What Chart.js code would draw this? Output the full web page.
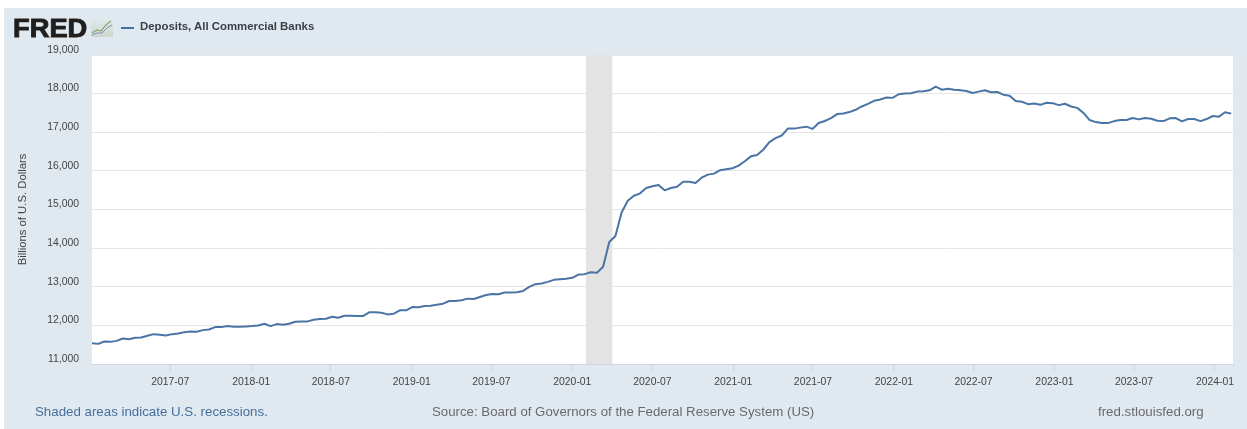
<!DOCTYPE html>
<html>
<head>
<meta charset="utf-8">
<script src="https://cdn.jsdelivr.net/npm/chart.js@4"></script>
<style>
html,body{margin:0;padding:0;background:#fff;width:1247px;height:429px;overflow:hidden}
#panel{position:absolute;left:4px;top:8px;width:1243px;height:421px;background:#e1e9f0}
#wrap{position:absolute;left:0;top:0;width:1247px;height:429px}
.t{position:absolute;font-family:"Liberation Sans",Arial,sans-serif;white-space:nowrap;line-height:1}
#logo{left:13px;top:15px;font-weight:700;font-size:26px;color:#1f1f1f;-webkit-text-stroke:.9px #1f1f1f;transform:scaleX(1.05);transform-origin:left center}
#icon{position:absolute;left:91px;top:18px}
#swatch{position:absolute;left:121px;top:26.5px;width:13px;height:2px;background:#4572a7}
#legend{left:140px;top:21px;font-size:11.4px;font-weight:700;color:#3a3f46}
#note{left:35px;top:404.5px;font-size:13.3px;color:#44709f}
#source{left:432px;top:404.5px;font-size:13.25px;color:#6a6a6a}
#site{left:1098px;top:404.5px;font-size:13.3px;color:#6a6a6a}
</style>
</head>
<body>
<div id="panel"></div>
<div id="wrap"><canvas id="c" width="1247" height="429"></canvas></div>
<div class="t" id="logo">FRED</div>
<svg id="icon" width="22" height="19" viewBox="0 0 22 19"><defs><linearGradient id="ig" x1="0" y1="0" x2="0" y2="1"><stop offset="0" stop-color="#e1e9f0"/><stop offset="1" stop-color="#cfd6cc"/></linearGradient></defs><rect width="22" height="19" fill="url(#ig)"/><polyline points="1,15 6,12 10,13 15,7 20,3" fill="none" stroke="#8aa878" stroke-width="1.2"/><polyline points="1,17 6,15 11,15 16,10 21,7" fill="none" stroke="#7d94ad" stroke-width="1"/></svg>
<div id="swatch"></div>
<div class="t" id="legend">Deposits, All Commercial Banks</div>
<div class="t" id="note">Shaded areas indicate U.S. recessions.</div>
<div class="t" id="source">Source: Board of Governors of the Federal Reserve System (US)</div>
<div class="t" id="site">fred.stlouisfed.org</div>
<script>
const firstObservation = "2017-01-04";
const observationStepDays = 14;
const axisEnd = "2024-02-11";
const yAxisTitle = "Billions of U.S. Dollars";
const deposits = [
11539,11521,11582,11573,11599,11660,11643,11677,11686,11730,11773,11756,11738,11773,11790,11825,11842,11834,11877,11894,
11955,11955,11981,11964,11964,11973,11981,11999,12042,11981,12033,12016,12042,12094,12103,12103,12146,12164,12172,12224,12198,
12250,12250,12241,12241,12337,12337,12328,12284,12302,12389,12389,12475,12467,12501,12510,12536,12562,12632,12632,12649,
12692,12684,12736,12788,12814,12805,12849,12849,12857,12892,12996,13066,13083,13126,13179,13196,13205,13231,13317,13326,13377,13362,
13517,14159,14315,14924,15226,15356,15418,15557,15600,15635,15496,15557,15591,15721,15721,15687,15825,15903,15929,16017,16043,
16068,16137,16248,16376,16410,16547,16744,16847,16915,17094,17094,17120,17145,17086,17240,17291,17368,17471,17488,17522,17582,
17667,17736,17813,17847,17898,17890,17984,18001,18009,18052,18060,18086,18180,18103,18129,18103,18086,18069,18017,18052,18086,18035,18043,
17973,17947,17807,17789,17728,17745,17710,17763,17754,17702,17737,17667,17631,17500,17316,17263,17237,17237,17289,17316,17316,17368,
17333,17368,17351,17298,17289,17360,17368,17281,17342,17342,17289,17342,17421,17403,17517,17482
];
const xTickLabels = ["2017-07","2018-01","2018-07","2019-01","2019-07","2020-01","2020-07","2021-01","2021-07","2022-01","2022-07","2023-01","2023-07","2024-01"];
const yTicks = [11000,12000,13000,14000,15000,16000,17000,18000,19000];
const recessionStart = "2020-02-01";
const recessionEnd = "2020-04-01";

const DAY = 86400000;
const toMs = s => Date.parse(s + "T00:00:00Z");
const points = deposits.map((v,i)=>({x: toMs(firstObservation)+i*observationStepDays*DAY, y:v}));
const monthStr = ms => new Date(ms).toISOString().slice(0,7);

const paint = {
  id:"paint",
  beforeDraw(ch){
    const a=ch.chartArea, g=ch.ctx;
    g.save(); g.fillStyle="#fff"; g.fillRect(a.left,a.top,a.right-a.left,a.bottom-a.top); g.restore();
  },
  beforeDatasetsDraw(ch){
    const a=ch.chartArea, g=ch.ctx, x=ch.scales.x;
    const l=x.getPixelForValue(toMs(recessionStart)), r=x.getPixelForValue(toMs(recessionEnd));
    g.save(); g.fillStyle="#e3e3e3"; g.fillRect(l,a.top,r-l,a.bottom-a.top); g.restore();
  }
};

new Chart(document.getElementById("c"),{
  type:"line",
  data:{datasets:[{label:"Deposits, All Commercial Banks",data:points,borderColor:"#4a74a5",borderWidth:2,pointRadius:0,tension:0,fill:false,borderJoinStyle:"round"}]},
  options:{
    responsive:false,animation:false,
    layout:{padding:{top:55,right:14,bottom:0,left:0}},
    plugins:{legend:{display:false},tooltip:{enabled:false}},
    scales:{
      x:{type:"linear",min:toMs(firstObservation),max:toMs(axisEnd),
        afterFit(s){s.height=65;},
        afterBuildTicks(s){s.ticks=xTickLabels.map(m=>({value:toMs(m+"-01")}));},
        grid:{drawOnChartArea:false,drawTicks:true,tickLength:7,color:"#ccd6e4"},
        border:{color:"#ccd6e4",width:1},
        ticks:{autoSkip:false,maxRotation:0,minRotation:0,padding:5,color:"#444",font:{family:"Liberation Sans",size:10.4},
          callback:v=>monthStr(v)}},
      y:{min:11000,max:19000,
        afterFit(s){s.width=92;},
        afterBuildTicks(s){s.ticks=yTicks.map(v=>({value:v}));},
        grid:{color:"#e6e6e6",drawTicks:false,lineWidth:1},
        border:{display:false},
        title:{display:true,text:yAxisTitle,color:"#444",font:{family:"Liberation Sans",size:11.3},padding:{top:16,bottom:0}},
        ticks:{padding:13,labelOffset:-5,color:"#444",font:{family:"Liberation Sans",size:10.4},
          callback:v=>v.toLocaleString("en-US")}}
    }
  },
  plugins:[paint]
});
</script>
</body>
</html>
